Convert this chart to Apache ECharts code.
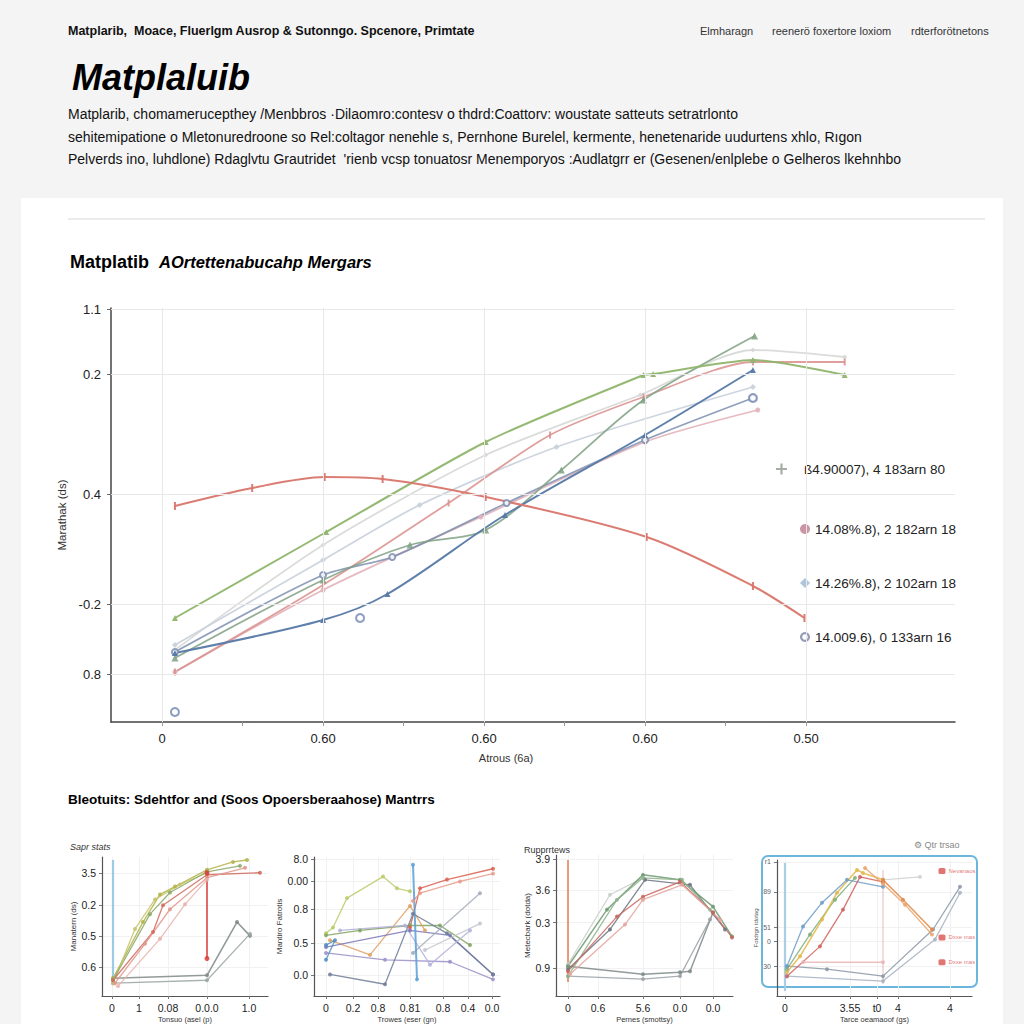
<!DOCTYPE html>
<html><head><meta charset="utf-8">
<script src="https://cdn.jsdelivr.net/npm/echarts@6/dist/echarts.min.js"></script>
<style>html,body{margin:0;padding:0;background:#f4f4f5;}#chart{width:1024px;height:1024px;}</style>
</head><body><div id="chart"></div>
<script>
// ---------------- Main chart data ----------------
const xTickValues = [0, 1, 2, 3, 4];
const xTickLabels = ['0', '0.60', '0.60', '0.60', '0.50'];
const xMinorTicks = [0, 0.5, 1, 1.5, 2, 2.5, 3, 3.5, 4];
const yTickValues = [4.13, 3.48, 2.28, 1.18, 0.48];
const yTickLabels = ['1.1', '0.2', '0.4', '-0.2', '0.8'];
const legendNames = ['ß4.90007), 4 183arn 80', '14.08%.8), 2 182arn 18', '14.26%.8), 2 102arn 18', '14.009.6), 0 133arn 16'];

const mainRed    = [[0.08,2.16],[0.56,2.34],[1.01,2.45],[1.37,2.43],[2.01,2.25],[3.01,1.85],[3.67,1.36],[3.99,1.04]];
const mainGreen  = [[0.08,1.04],[1.02,1.90],[2.01,2.80],[2.99,3.47],[3.05,3.48],[3.67,3.62],[4.24,3.47]];
const mainSage   = [[0.08,0.64],[1.00,1.42],[1.54,1.77],[2.01,1.92],[2.48,2.52],[2.99,3.22],[3.68,3.86]];
const mainBlue   = [[0.08,0.69],[1.00,1.02],[1.40,1.28],[2.13,2.07],[3.00,2.87],[3.67,3.52]];
const mainSlate  = [[0.08,0.70],[1.00,1.47],[1.43,1.65],[2.14,2.19],[3.00,2.82],[3.67,3.24]];
const mainRose   = [[0.08,0.50],[1.00,1.37],[1.78,2.19],[2.41,2.87],[2.99,3.25],[3.67,3.60],[4.24,3.60]];
const mainPink   = [[0.08,0.50],[1.00,1.32],[1.98,2.05],[3.00,2.80],[3.70,3.12]];
const mainMist   = [[0.08,0.77],[1.00,1.62],[1.60,2.17],[2.45,2.75],[3.67,3.35]];
const mainPale   = [[0.08,0.72],[1.00,1.77],[2.01,2.67],[2.97,3.27],[3.67,3.72],[4.24,3.65]];
const mainDots   = [[0.08,0.10],[1.23,1.04],[3.67,3.24]];

// ---------------- Mini chart A ----------------
const aXTicks = [10, 37, 66, 105, 147];
const aXLabels = ['0', '1', '0.08', '0.0.0', '1.0'];
const aYTicks = [125, 92, 61, 29];
const aYLabels = ['3.5', '0.2', '0.5', '0.6'];
const aOlive1 = [[11,18],[41,75],[58,103],[73,111],[105,128],[131,136],[145,138]];
const aOlive2 = [[11,13],[33,68],[53,98],[78,113],[105,125]];
const aGreen  = [[11,16],[48,83],[68,105],[105,126],[138,132]];
const aRed1   = [[11,16],[51,65],[61,92],[105,123],[158,125]];
const aRed2   = [[13,13],[43,53],[68,88],[105,120],[143,130]];
const aRed3   = [[16,10],[58,58],[83,93],[105,118]];
const aGray1  = [[11,18],[105,21],[135,75],[148,61]];
const aGray2  = [[11,13],[105,16],[148,63]];
const aBlueV  = [[11,138],[11,16]];
const aRedV   = [[105,125],[105,38]];

// ---------------- Mini chart B ----------------
const bXTicks = [12, 39, 64, 96, 129, 154, 178];
const bXLabels = ['0', '0.2', '0.8', '0.81', '0.8', '0.4', '0.0'];
const bYTicks = [140, 117, 89, 54, 21];
const bYLabels = ['8.0', '0.00', '0.8', '0.5', '0.0'];
const bLime    = [[12,64],[19,70],[33,100],[69,122],[83,110],[96,107]];
const bGreen   = [[12,62],[46,67],[96,72],[126,72],[156,52]];
const bRed1    = [[96,70],[106,110],[133,119],[179,130]];
const bRed2    = [[99,97],[106,105],[146,117],[179,125]];
const bOrange  = [[16,57],[56,42],[96,92],[111,67]];
const bBlueV   = [[99,134],[103,17]];
const bBlue2   = [[12,52],[21,57],[12,37]];
const bPurple1 = [[12,50],[96,67],[136,62],[179,22]];
const bPurple2 = [[12,44],[71,37],[136,35],[179,17]];
const bSlate   = [[16,22],[71,12],[99,84],[133,64],[179,22]];
const bGray1   = [[99,44],[166,105]];
const bGray2   = [[111,47],[166,74]];
const bLav     = [[26,67],[91,72],[116,32],[156,67]];

// ---------------- Mini chart C ----------------
const cXTicks = [12, 42, 87, 124, 157];
const cXLabels = ['0', '0.6', '5.6', '0.0', '0.0'];
const cYTicks = [138, 107, 74, 28];
const cYLabels = ['3.9', '3.6', '0.3', '0.9'];
const cGreen1 = [[12,30],[51,87],[87,122],[124,117],[157,90],[176,60]];
const cGreen2 = [[12,20],[61,97],[87,119],[126,117],[154,87]];
const cRed1   = [[12,25],[61,80],[87,100],[124,115],[157,84],[176,59]];
const cRed2   = [[14,22],[69,72],[87,97],[126,112],[164,77]];
const cGray1  = [[12,30],[87,22],[124,24],[134,25],[157,84]];
const cGray2  = [[12,20],[87,17],[124,20],[154,77]];
const cSlate  = [[12,27],[54,67],[89,117],[134,112],[169,67]];
const cLight  = [[12,32],[54,102],[87,119]];
const cRedV   = [[12,137],[12,14]];

// ---------------- Mini chart D ----------------
const dXTicks = [8, 73, 100, 121, 173];
const dXLabels = ['0', '3.55', 't0', '4', '4'];
const dYTicks = [135, 105, 69, 55, 30];
const dYLabels = ['r1', '89', '51', '0', '30'];
const dYellow  = [[10,24],[23,40],[45,77],[60,104],[80,127],[86,124],[106,117]];
const dOrange1 = [[106,117],[126,97],[155,67]];
const dOrange2 = [[88,129],[106,113],[128,92],[155,62]];
const dRed     = [[10,20],[43,50],[66,87],[83,120],[106,115]];
const dBlue    = [[10,30],[26,70],[45,94],[70,117],[106,110]];
const dGreen   = [[10,27],[33,62],[58,97],[78,119]];
const dGray1   = [[10,30],[50,27],[106,20],[156,67],[183,110]];
const dGray2   = [[10,20],[106,15],[158,57],[183,104]];
const dPink    = [[26,34],[106,34]];
const dGrayTop = [[106,117],[143,120]];
const dBlueV   = [[8,134],[8,5]];
const dRedV    = [[106,127],[106,12]];
const dKeys    = [[165,126],[165,59],[165,34]];
const dKeyLabels = ['Nevanaos', 'Dxxe mas', 'Dxxe mas'];

// ---------------- Texts ----------------
const headerLine = 'Matplarib,  Moace, Fluerlgm Ausrop & Sutonngo. Spcenore, Primtate';
const headerRight = ['Elmharagn', 'reenerö foxertore loxiom', 'rdterforötnetons'];
const bigTitle = 'Matplaluib';
const paragraph = [
  'Matplarib, chomamerucepthey /Menbbros ·Dilaomro:contesv o thdrd:Coattorv: woustate satteuts setratrlonto',
  'sehitemipatione o Mletonuredroone so Rel:coltagor nenehle s, Pernhone Burelel, kermente, henetenaride uudurtens xhlo, Rıgon',
  'Pelverds ino, luhdlone) Rdaglvtu Grautridet  \'rienb vcsp tonuatosr Menemporyos :Audlatgrr er (Gesenen/enlplebe o Gelheros lkehnhbo'
];
const mainTitleA = 'Matplatib';
const mainTitleB = 'AOrtettenabucahp Mergars';
const sectionTitle = 'Bleotuits: Sdehtfor and (Soos Opoersberaahose) Mantrrs';

// ---------------- Build ----------------
const FONT = "'Liberation Sans', Arial, sans-serif";
const chart = echarts.init(document.getElementById('chart'), null, {renderer: 'svg'});

function lookup(vals, labels) {
  return function (v) {
    const i = vals.findIndex(t => Math.abs(t - v) < 1e-6);
    return i >= 0 ? labels[i] : '';
  };
}
function txt(text, left, top, style) {
  return {text, left, top, padding: 0, itemGap: 0,
    textStyle: Object.assign({fontFamily: FONT, color: '#111', fontSize: 12, fontWeight: 'normal'}, style)};
}

const titles = [
  txt(headerLine, 68, 24, {fontSize: 12.5, fontWeight: 'bold'}),
  txt(headerRight[0], 700, 25, {fontSize: 11, color: '#333'}),
  txt(headerRight[1], 772, 25, {fontSize: 11, color: '#333'}),
  txt(headerRight[2], 911, 25, {fontSize: 11, color: '#333'}),
  txt(bigTitle, 72, 59, {fontSize: 36, fontWeight: 'bold', fontStyle: 'italic', color: '#000'}),
  txt(paragraph[0], 68, 107, {fontSize: 14}),
  txt(paragraph[1], 68, 130, {fontSize: 14}),
  txt(paragraph[2], 68, 152, {fontSize: 14}),
  {text: '{a|' + mainTitleA + '}  {b|' + mainTitleB + '}', left: 70, top: 253, padding: 0,
    textStyle: {rich: {a: {fontFamily: FONT, fontSize: 18, fontWeight: 'bold', color: '#000'},
                       b: {fontFamily: FONT, fontSize: 16.5, fontWeight: 'bold', fontStyle: 'italic', color: '#000'}}}},
  txt(sectionTitle, 68, 792, {fontSize: 13.5, fontWeight: 'bold', color: '#000'}),
  txt('Sapr stats', 70, 842, {fontSize: 9, fontStyle: 'italic', color: '#333'}),
  txt('Rupprrtews', 524, 845, {fontSize: 9, color: '#333'}),
  txt('⚙ Qtr trsao', 914, 840, {fontSize: 9, color: '#888'})
];

const grids = [
  {left: 111, top: 308, width: 844, height: 414},
  {left: 102, top: 857, width: 166, height: 141},
  {left: 314, top: 857, width: 186, height: 140},
  {left: 556, top: 855, width: 177, height: 142},
  {left: 777, top: 860, width: 195, height: 137}
];

function miniX(gi, max, ticks, labels, name) {
  return {type: 'value', gridIndex: gi, min: 0, max: max,
    axisLine: {show: true, lineStyle: {color: '#555', width: 1.2}},
    axisTick: {show: true, length: 3, customValues: ticks, lineStyle: {color: '#777'}},
    axisLabel: {customValues: ticks, formatter: lookup(ticks, labels), fontSize: 10.5, color: '#222', fontFamily: FONT, margin: 6},
    splitLine: {show: true, lineStyle: {color: '#f1f1f1'}},
    name: name, nameLocation: 'middle', nameGap: 19, nameTextStyle: {fontSize: 7.5, color: '#333', fontFamily: FONT}};
}
function miniY(gi, max, ticks, labels, name, extra) {
  return Object.assign({type: 'value', gridIndex: gi, min: 0, max: max,
    axisLine: {show: true, lineStyle: {color: '#555', width: 1.2}},
    axisTick: {show: true, length: 3, customValues: ticks, lineStyle: {color: '#777'}},
    axisLabel: {customValues: ticks, formatter: lookup(ticks, labels), fontSize: 10.5, color: '#222', fontFamily: FONT, margin: 6},
    splitLine: {show: true, lineStyle: {color: '#f1f1f1'}},
    name: name, nameLocation: 'middle', nameRotate: 90, nameGap: 22, nameTextStyle: {fontSize: 8, color: '#333', fontFamily: FONT}}, extra || {});
}

const xAxes = [
  {type: 'value', gridIndex: 0, min: -0.317, max: 4.925,
    axisLine: {show: true, onZero: false, lineStyle: {color: '#444', width: 1.5}},
    axisTick: {show: true, length: 4, customValues: xMinorTicks, lineStyle: {color: '#999'}},
    axisLabel: {customValues: xTickValues, formatter: lookup(xTickValues, xTickLabels), fontSize: 13, color: '#222', fontFamily: FONT, margin: 10},
    splitLine: {show: false},
    name: 'Atrous (6a)', nameLocation: 'middle', nameGap: 30,
    nameTextStyle: {fontSize: 11, color: '#333', fontFamily: FONT, padding: [0, 54, 0, 0]}},
  miniX(1, 166, aXTicks, aXLabels, 'Tonsuo (asel (p)'),
  miniX(2, 186, bXTicks, bXLabels, 'Trowes (eser (gn)'),
  miniX(3, 177, cXTicks, cXLabels, 'Pernes (smottsy)'),
  miniX(4, 195, dXTicks, dXLabels, 'Tarce oeamaoof (gs)')
];
const yAxes = [
  {type: 'value', gridIndex: 0, min: 0, max: 4.14,
    axisLine: {show: true, onZero: false, lineStyle: {color: '#444', width: 1.5}},
    axisTick: {show: true, length: 4, customValues: yTickValues, lineStyle: {color: '#666'}},
    axisLabel: {customValues: yTickValues, formatter: lookup(yTickValues, yTickLabels), fontSize: 13, color: '#222', fontFamily: FONT, margin: 10},
    splitLine: {show: false},
    name: 'Marathak (ds)', nameLocation: 'middle', nameRotate: 90, nameGap: 28,
    nameTextStyle: {fontSize: 11.5, color: '#333', fontFamily: FONT}},
  miniY(1, 141, aYTicks, aYLabels, 'Manatern (ds)'),
  miniY(2, 142, bYTicks, bYLabels, 'Mantiro Fatrotis'),
  miniY(3, 142, cYTicks, cYLabels, 'Metecbark (dotda)'),
  miniY(4, 137, dYTicks, dYLabels, 'Fotdrgn tdotag', {axisLabel: {customValues: dYTicks, formatter: lookup(dYTicks, dYLabels), fontSize: 7, color: '#666', fontFamily: FONT, margin: 6}, nameGap: 16, nameTextStyle: {fontSize: 6, color: '#555'}})
];

function ln(name, data, color, gi, opt) {
  opt = opt || {};
  return {type: 'line', name: name, data: data, xAxisIndex: gi, yAxisIndex: gi,
    smooth: opt.smooth !== undefined ? opt.smooth : 0, showSymbol: opt.showSymbol !== false,
    symbol: opt.symbol || 'circle', symbolSize: opt.size || 4,
    lineStyle: {color: color, width: opt.width || 1.3, opacity: opt.opacity !== undefined ? opt.opacity : 0.85},
    itemStyle: {color: color, opacity: opt.opacity !== undefined ? opt.opacity : 0.85},
    z: opt.z || 3, silent: true, animation: false};
}

const gridLineSeries = {type: 'line', name: 'gridlines', xAxisIndex: 0, yAxisIndex: 0, data: [], silent: true, z: 1,
  markLine: {silent: true, symbol: 'none', label: {show: false}, animation: false,
    lineStyle: {color: '#e8e8e8', width: 1, type: 'solid'},
    data: xTickValues.map(v => ({xAxis: v})).concat(yTickValues.map(v => ({yAxis: v})))}};

const series = [
  gridLineSeries,
  ln(legendNames[0], mainPale, '#d6d8d6', 0, {smooth: 0.25, width: 1.8, symbol: 'diamond', size: 5, opacity: 0.9}),
  ln(legendNames[2], mainMist, '#c9d0dc', 0, {smooth: 0.25, width: 1.8, symbol: 'diamond', size: 6, opacity: 0.9}),
  ln(legendNames[1], mainPink, '#e2b3ba', 0, {smooth: 0.25, width: 1.8, symbol: 'circle', size: 5, opacity: 0.9}),
  ln('rose', mainRose, '#d98e8c', 0, {smooth: 0.25, width: 1.8, symbol: 'rect', size: [2, 7]}),
  ln('slate', mainSlate, '#7d8fb0', 0, {smooth: 0.25, width: 1.8, symbol: 'emptyCircle', size: 6}),
  ln('sage', mainSage, '#7fa083', 0, {smooth: 0.3, width: 1.8, symbol: 'triangle', size: 7}),
  ln('blue', mainBlue, '#5679a6', 0, {smooth: 0.3, width: 2, symbol: 'triangle', size: 6, opacity: 0.95}),
  ln('green', mainGreen, '#8fb56b', 0, {smooth: 0.2, width: 2, symbol: 'triangle', size: 6, opacity: 0.95}),
  ln('red', mainRed, '#d9756a', 0, {smooth: 0.3, width: 2, symbol: 'rect', size: [2, 8], opacity: 0.95}),
  {type: 'scatter', name: legendNames[3], data: mainDots, xAxisIndex: 0, yAxisIndex: 0, symbol: 'emptyCircle', symbolSize: 8,
    itemStyle: {color: '#6f86b0', borderWidth: 1.5}, z: 4, silent: true, animation: false},

  // mini A
  ln('aGray1', aGray1, '#7f8a86', 1, {width: 1.6}),
  ln('aGray2', aGray2, '#9aa5a2', 1, {width: 1.3}),
  ln('aOlive1', aOlive1, '#b2b44a', 1, {width: 1.4}),
  ln('aOlive2', aOlive2, '#c6c36a', 1),
  ln('aGreen', aGreen, '#8aa865', 1),
  ln('aRed1', aRed1, '#d0695c', 1),
  ln('aRed2', aRed2, '#e0958a', 1),
  ln('aRed3', aRed3, '#e8b3aa', 1),
  ln('aBlueV', aBlueV, '#8ec3e0', 1, {width: 2.2, showSymbol: false}),
  ln('aRedV', aRedV, '#d9403a', 1, {width: 1.8, size: 5}),

  // mini B
  ln('bLime', bLime, '#b8cc6a', 2),
  ln('bGreen', bGreen, '#7fa35e', 2),
  ln('bRed1', bRed1, '#d9604f', 2),
  ln('bRed2', bRed2, '#e89a88', 2),
  ln('bOrange', bOrange, '#e0a060', 2),
  ln('bPurple1', bPurple1, '#7a78b8', 2),
  ln('bPurple2', bPurple2, '#9a8fc8', 2),
  ln('bSlate', bSlate, '#6f7c96', 2),
  ln('bGray1', bGray1, '#a3acb8', 2),
  ln('bGray2', bGray2, '#c0c6cc', 2),
  ln('bLav', bLav, '#b3b0d8', 2),
  ln('bBlue2', bBlue2, '#4d8cc4', 2),
  ln('bBlueV', bBlueV, '#5b9fd6', 2, {width: 2}),

  // mini C
  ln('cGray1', cGray1, '#7e8a8a', 3, {width: 1.5}),
  ln('cGray2', cGray2, '#9aa0a4', 3),
  ln('cLight', cLight, '#c8cec8', 3),
  ln('cSlate', cSlate, '#6c7380', 3),
  ln('cGreen1', cGreen1, '#6f9a72', 3, {width: 1.5}),
  ln('cGreen2', cGreen2, '#8db38c', 3),
  ln('cRed1', cRed1, '#c9645a', 3),
  ln('cRed2', cRed2, '#e3a39c', 3),
  ln('cRedV', cRedV, '#e58a6a', 3, {width: 2, showSymbol: false}),

  // mini D
  ln('dGray1', dGray1, '#8a96a6', 4),
  ln('dGray2', dGray2, '#a6b2c2', 4),
  ln('dPink', dPink, '#e9b5b5', 4),
  ln('dGrayTop', dGrayTop, '#d0d0d0', 4),
  ln('dBlue', dBlue, '#6f9cc8', 4),
  ln('dGreen', dGreen, '#7fae7a', 4),
  ln('dRed', dRed, '#d0605a', 4),
  ln('dYellow', dYellow, '#e2b84a', 4, {width: 1.6}),
  ln('dOrange1', dOrange1, '#e08a4a', 4, {width: 1.6}),
  ln('dOrange2', dOrange2, '#eaa26a', 4),
  ln('dBlueV', dBlueV, '#9cc8e2', 4, {width: 2.2, showSymbol: false}),
  ln('dRedV', dRedV, '#e0b0b0', 4, {width: 1, showSymbol: false}),
  {type: 'scatter', name: 'dKeys', data: dKeys, xAxisIndex: 4, yAxisIndex: 4, symbol: 'roundRect', symbolSize: [7, 6],
    itemStyle: {color: '#d9534f', opacity: 0.8}, silent: true, animation: false,
    label: {show: true, position: 'right', distance: 3, fontSize: 6, color: '#d9534f',
      formatter: p => dKeyLabels[p.dataIndex]}}
];

const plusIcon = 'path://M4,0H6V4H10V6H6V10H4V6H0V4H4Z';
const ringIcon = 'path://M5,0A5,5,0,1,1,4.99,0ZM5,2.2A2.8,2.8,0,1,0,5.01,2.2Z';
const legendText = {fontFamily: FONT, fontSize: 13.5, color: '#222'};

const option = {
  backgroundColor: 'transparent',
  animation: false,
  textStyle: {fontFamily: FONT},
  graphic: {elements: [
    {type: 'rect', z: -10, shape: {x: 0, y: 0, width: 1024, height: 1024}, style: {fill: '#f4f4f5'}},
    {type: 'rect', z: -9, shape: {x: 21, y: 198, width: 982, height: 826}, style: {fill: '#ffffff'}},
    {type: 'rect', z: -8, shape: {x: 68, y: 218, width: 917, height: 2}, style: {fill: '#ebebed'}},
    {type: 'rect', z: -8, shape: {x: 762, y: 856, width: 215, height: 131, r: 6}, style: {fill: 'none', stroke: '#6cb6dd', lineWidth: 2}}
  ]},
  title: titles,
  grid: grids,
  xAxis: xAxes,
  yAxis: yAxes,
  legend: [
    {orient: 'vertical', left: 771, top: 457, selectedMode: false, itemWidth: 11, itemHeight: 11,
      textStyle: Object.assign({padding: [0, 0, 0, 12]}, legendText),
      data: [{name: legendNames[0], icon: plusIcon, itemStyle: {color: '#9aa59a'}}]},
    {orient: 'vertical', left: 795, top: 517, selectedMode: false, itemWidth: 10, itemHeight: 10, itemGap: 40,
      textStyle: legendText,
      data: [
        {name: legendNames[1], icon: 'circle', itemStyle: {color: '#c78a9c'}},
        {name: legendNames[2], icon: 'diamond', itemStyle: {color: '#a9bfd6'}},
        {name: legendNames[3], icon: ringIcon, itemStyle: {color: '#7c82a6'}}
      ]}
  ],
  series: series
};
chart.setOption(option);
</script></body></html>
